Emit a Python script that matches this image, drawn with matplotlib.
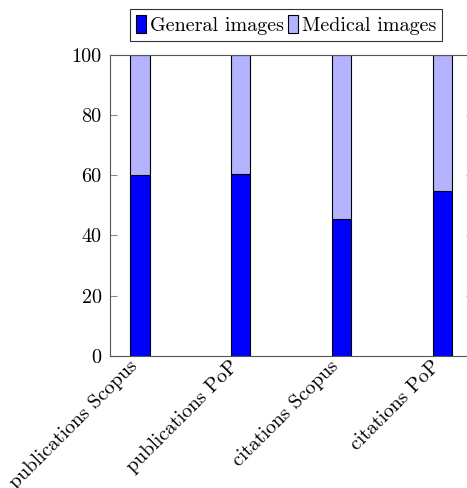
import matplotlib
matplotlib.use("Agg")
import matplotlib.pyplot as plt
import matplotlib.transforms as mtransforms
import numpy as np

categories = ["publications Scopus", "publications PoP", "citations Scopus", "citations PoP"]
general = [60.2, 60.3, 45.4, 54.7]
medical = [39.8, 39.7, 54.6, 45.3]
series_labels = ["General images", "Medical images"]
yticks = [0, 20, 40, 60, 80, 100]

FS = 14.5
plt.rcParams["font.family"] = ["cmr10", "DejaVu Serif"]
plt.rcParams["font.size"] = FS
plt.rcParams["axes.unicode_minus"] = False

fig = plt.figure(figsize=(4.67, 4.88), dpi=100)
ax = fig.add_axes([0.2355, 0.2705, 0.777, 0.6176])

x = np.arange(len(categories))
w = 0.19
ax.bar(x, general, width=w, color="#0000ff", edgecolor="black", linewidth=0.8,
       label=series_labels[0])
ax.bar(x, medical, width=w, bottom=general, color="#b3b3ff", edgecolor="black",
       linewidth=0.8, label=series_labels[1])

ax.set_xlim(-0.297, 3.3)
ax.set_ylim(0, 100)
ax.set_yticks(yticks)
ax.set_xticks(x)
ax.set_xticklabels([])

# rotated category labels, ends tucked just under each bar
label_tr = ax.get_xaxis_transform() + mtransforms.ScaledTranslation(
    -12 / 100, -1 / 100, fig.dpi_scale_trans)
for xi, name in zip(x, categories):
    ax.text(xi, 0, name, transform=label_tr, rotation=45, ha="right", va="top",
            rotation_mode="anchor", fontsize=FS, clip_on=False)

for s in ax.spines.values():
    s.set_color("#555555")
    s.set_linewidth(0.8)

ax.tick_params(axis="y", direction="in", length=5, color="#888888", right=True, left=True,
               pad=6, labelsize=FS)
ax.tick_params(axis="x", length=0, pad=0)

leg = ax.legend(loc="lower center", bbox_to_anchor=(0.485, 1.045), ncol=2,
                frameon=True, fancybox=False, edgecolor="black", handlelength=0.5,
                handleheight=1.0, handletextpad=0.2, columnspacing=0.2,
                borderpad=0.3, borderaxespad=0.0, fontsize=FS)
leg.get_frame().set_linewidth(0.8)

fig.savefig("out.png", dpi=100)
